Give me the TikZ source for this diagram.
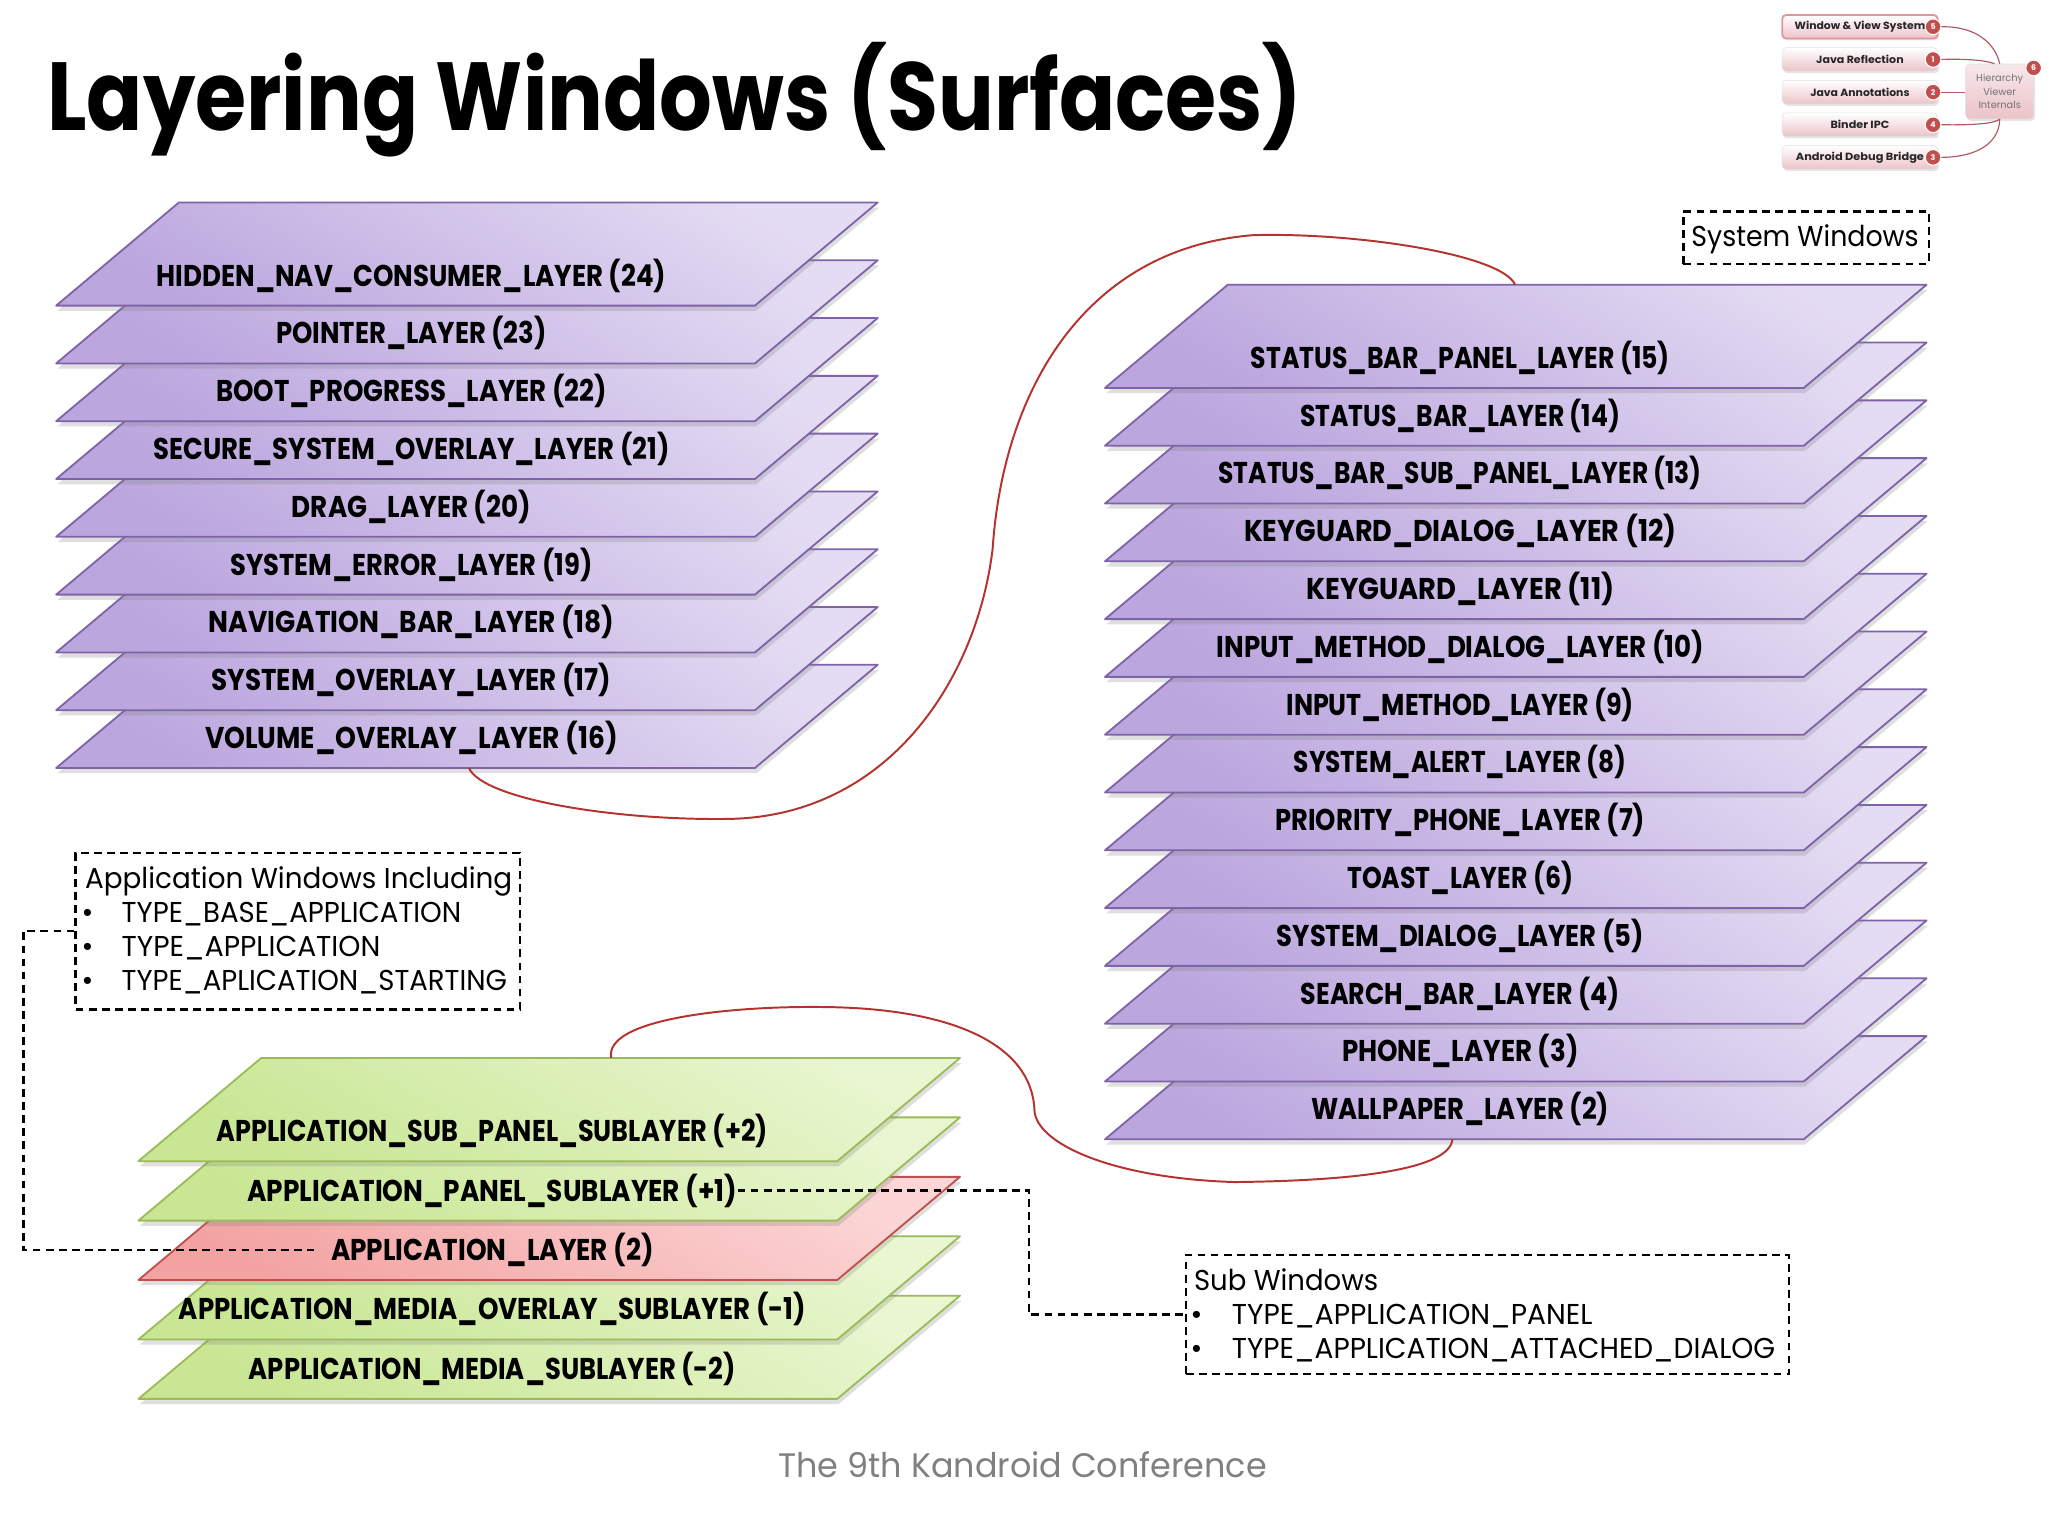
\documentclass[tikz,border=0pt]{standalone}
\usepackage{fontspec}
\setmainfont{Poppins}
\usepackage{graphicx}
\usetikzlibrary{shadows}
\newcommand\fitx[2]{\resizebox{#1}{\height}{#2}}
\definecolor{pbord}{HTML}{7F63A8}
\definecolor{plight}{HTML}{E4DCF3}
\definecolor{pdark}{HTML}{BBA6DE}
\definecolor{gbord}{HTML}{9BBB59}
\definecolor{glight}{HTML}{E9F6D0}
\definecolor{gdark}{HTML}{C8E693}
\definecolor{rbord}{HTML}{C0504D}
\definecolor{rlight}{HTML}{FCD6D6}
\definecolor{rdark}{HTML}{F3A2A2}
\definecolor{curvec}{HTML}{B5332E}
\definecolor{footgray}{HTML}{808080}
\definecolor{wpink}{HTML}{EBC3C9}
\definecolor{wnumc}{HTML}{C0504D}
\definecolor{wline}{HTML}{B05A64}
\newcommand\layerplate[7]{%
  \path[#4] (#2+94,#3) -- (#2+629,#3) -- (#2+535,#3+79) -- (#2,#3+79) -- cycle;
  \node[lbl] (#1) at (#7,#3+64) {\fitx{#6pt}{#5}};}
\begin{document}
\begin{tikzpicture}[x=1pt,y=-1pt,
  plate/.style={line width=1.4pt, line join=round, drop shadow={opacity=0.25, shadow xshift=1pt, shadow yshift=-4pt}},
  pplate/.style={plate, draw=pbord, top color=plight, bottom color=pdark, shading angle=-30},
  gplate/.style={plate, draw=gbord, top color=glight, bottom color=gdark, shading angle=-30},
  rplate/.style={plate, draw=rbord, top color=rlight, bottom color=rdark, shading angle=-30},
  lbl/.style={font=\bfseries\fontsize{23}{25}\selectfont, inner sep=0pt, anchor=base},
  btxt/.style={font=\fontsize{22}{24}\selectfont, inner sep=0pt, anchor=base west},
  bul/.style={font=\fontsize{22}{24}\selectfont, inner sep=0pt, anchor=base},
  dbox/.style={draw, line width=1.8pt, dash pattern=on 6pt off 4pt, inner sep=0pt},
  dconn/.style={draw, line width=1.8pt, dash pattern=on 6pt off 4pt},
  redc/.style={draw=curvec, line width=1.5pt},
  witem/.style={rounded corners=3pt, draw=black!12, top color=white, bottom color=wpink, minimum width=119pt, minimum height=18pt, inner sep=0pt, font=\bfseries\fontsize{8}{9}\selectfont, text=black!85, drop shadow={opacity=0.2, shadow xshift=1pt, shadow yshift=-1.5pt}},
  wnum/.style={circle, fill=wnumc, draw=white, line width=0.8pt, text=white, font=\bfseries\fontsize{6}{6}\selectfont, inner sep=0pt, minimum size=12pt},
  wconn/.style={draw=wline, line width=0.9pt}
]
\useasboundingbox (0,0) rectangle (1568,1176);
\fill[white] (0,0) rectangle (1568,1176);

% title
\node[anchor=base west, inner sep=0pt, font=\bfseries\fontsize{74}{80}\selectfont] (title) at (36,100) {\fitx{961pt}{Layering Windows (Surfaces)}};

% left stack
\foreach \i/\nm/\lab/\w in {8/L16/VOLUME\_OVERLAY\_LAYER (16)/316, 7/L17/SYSTEM\_OVERLAY\_LAYER (17)/306, 6/L18/NAVIGATION\_BAR\_LAYER (18)/310, 5/L19/SYSTEM\_ERROR\_LAYER (19)/277, 4/L20/DRAG\_LAYER (20)/183, 3/L21/SECURE\_SYSTEM\_OVERLAY\_LAYER (21)/395, 2/L22/BOOT\_PROGRESS\_LAYER (22)/299, 1/L23/POINTER\_LAYER (23)/207, 0/L24/HIDDEN\_NAV\_CONSUMER\_LAYER (24)/390}
  {\layerplate{\nm}{43}{155+44.25*\i}{pplate}{\lab}{\w}{315}}

% right stack
\foreach \i/\nm/\lab/\w in {13/L2/WALLPAPER\_LAYER (2)/228, 12/L3/PHONE\_LAYER (3)/181, 11/L4/SEARCH\_BAR\_LAYER (4)/244, 10/L5/SYSTEM\_DIALOG\_LAYER (5)/281, 9/L6/TOAST\_LAYER (6)/173, 8/L7/PRIORITY\_PHONE\_LAYER (7)/283, 7/L8/SYSTEM\_ALERT\_LAYER (8)/255, 6/L9/INPUT\_METHOD\_LAYER (9)/266, 5/L10/INPUT\_METHOD\_DIALOG\_LAYER (10)/373, 4/L11/KEYGUARD\_LAYER (11)/236, 3/L12/KEYGUARD\_DIALOG\_LAYER (12)/331, 2/L13/STATUS\_BAR\_SUB\_PANEL\_LAYER (13)/370, 1/L14/STATUS\_BAR\_LAYER (14)/245, 0/L15/STATUS\_BAR\_PANEL\_LAYER (15)/321}
  {\layerplate{\nm}{846}{218+44.25*\i}{pplate}{\lab}{\w}{1118}}

% application stack
\layerplate{Am2}{106}{992}{gplate}{APPLICATION\_MEDIA\_SUBLAYER (-2)}{373}{377}
\layerplate{Am1}{106}{946.5}{gplate}{APPLICATION\_MEDIA\_OVERLAY\_SUBLAYER (-1)}{480}{377}
\layerplate{Aapp}{106}{901}{rplate}{APPLICATION\_LAYER (2)}{247}{377}
\layerplate{Ap1}{106}{855.5}{gplate}{APPLICATION\_PANEL\_SUBLAYER (+1)}{375}{377}
\layerplate{Ap2}{106}{810}{gplate}{APPLICATION\_SUB\_PANEL\_SUBLAYER (+2)}{422}{377}

% red curves
\coordinate (c1a) at (359,588);
\coordinate (c1b) at (1160,218);
\coordinate (c2a) at (468,810);
\coordinate (c2b) at (1112,872.25);
\draw[redc] (c1a) .. controls (370,612) and (470,628) .. (556,627)
  .. controls (680,626) and (748,520) .. (760,420)
  .. controls (768,300) and (830,190) .. (960,180)
  .. controls (1040,178) and (1150,195) .. (c1b);
\draw[redc] (c2a) .. controls (462,780) and (560,770) .. (631,771)
  .. controls (730,772) and (790,800) .. (792,850)
  .. controls (793,875) and (850,902) .. (945,905)
  .. controls (1040,904) and (1110,895) .. (c2b);

% dashed boxes
\node[dbox, minimum width=340pt, minimum height=120pt, anchor=north west] (appbox) at (57,652) {};
\node[dbox, minimum width=462pt, minimum height=91pt, anchor=north west] (subbox) at (907,960) {};
\node[dbox, minimum width=188pt, minimum height=40pt, anchor=north west] (sysbox) at (1288,161) {};

\node[btxt, anchor=base] (systxt) at (1382,189) {\fitx{174pt}{System Windows}};

\node[btxt] (a0) at (65,680) {\fitx{327pt}{Application Windows Including}};
\node[bul] (b1) at (67,706) {\textbullet};
\node[btxt] (a1) at (93,706) {\fitx{260pt}{TYPE\_BASE\_APPLICATION}};
\node[bul] (b2) at (67,732) {\textbullet};
\node[btxt] (a2) at (93,732) {\fitx{198pt}{TYPE\_APPLICATION}};
\node[bul] (b3) at (67,758) {\textbullet};
\node[btxt] (a3) at (93,758) {\fitx{295pt}{TYPE\_APLICATION\_STARTING}};

\node[btxt] (s0) at (914,988) {\fitx{141pt}{Sub Windows}};
\node[bul] (sb1) at (916,1014) {\textbullet};
\node[btxt] (s1) at (943,1014) {\fitx{276pt}{TYPE\_APPLICATION\_PANEL}};
\node[bul] (sb2) at (916,1040) {\textbullet};
\node[btxt] (s2) at (943,1040) {\fitx{416pt}{TYPE\_APPLICATION\_ATTACHED\_DIALOG}};

% dashed connectors
\draw[dconn, shorten >=13pt] (appbox.west) -- ++(-39,0) |- (Aapp.west);
\draw[dconn] (Ap1.east) -| ([xshift=-119pt]subbox.west) -- (subbox.west);

% footer
\node[font=\fontsize{26}{28}\selectfont, text=footgray, inner sep=0pt, anchor=base] (foot) at (783,1131) {\fitx{374pt}{The 9th Kandroid Conference}};

% widget
\node[witem, draw={rgb,255:red,226;green,150;blue,160}, line width=1.4pt] (w5) at (1424,20.5) {\fitx{100pt}{Window \& View System}};
\node[witem] (w1) at (1424,45.5) {\fitx{67pt}{Java Reflection}};
\node[witem] (w2) at (1424,70.5) {\fitx{76pt}{Java Annotations}};
\node[witem] (w4) at (1424,95.5) {\fitx{45pt}{Binder IPC}};
\node[witem] (w3) at (1424,120.5) {\fitx{98pt}{Android Debug Bridge}};
\node[witem, minimum width=52pt, minimum height=42pt, align=center, font=\fontsize{7.5}{10.5}\selectfont, text=black!55, top color=white!60!wpink, bottom color=wpink] (hv) at (1531,70) {Hierarchy\\Viewer\\Internals};
\node[wnum] (n5) at (1480,20.5) {5};
\node[wnum] (n1) at (1480,45.5) {1};
\node[wnum] (n2) at (1480,70.5) {2};
\node[wnum] (n4) at (1480,95.5) {4};
\node[wnum] (n3) at (1480,120.5) {3};
\node[wnum] (n6) at (1557,52) {6};
\draw[wconn] (n5.east) .. controls (1515,20) and (1528,35) .. (hv.north);
\draw[wconn] (n1.east) .. controls (1505,45) and (1520,46) .. ([xshift=-4pt]hv.north);
\draw[wconn] (n2.east) -- (hv.west |- n2);
\draw[wconn] (n4.east) .. controls (1515,96) and (1528,94) .. (hv.south);
\draw[wconn] (n3.east) .. controls (1520,120) and (1531,105) .. (hv.south);
\end{tikzpicture}
\end{document}
